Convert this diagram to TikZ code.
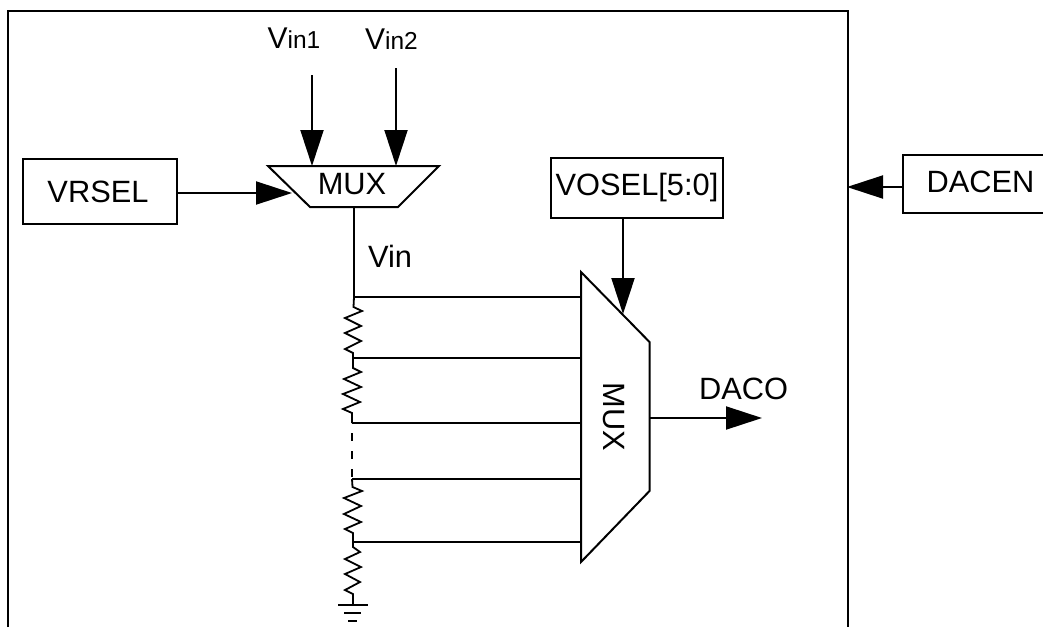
\documentclass[tikz,border=0pt]{standalone}
\usepackage{fontspec}
\setmainfont{Liberation Sans}
\usetikzlibrary{arrows.meta}
\tikzset{
  wire/.style={line width=2pt,line cap=butt},
  arrowwire/.style={wire,-{Triangle[length=36pt,width=23pt]}},
  lab/.style={inner sep=0pt,font=\fontsize{30.8}{34}\selectfont},
  boxnode/.style={draw,line width=2pt,inner sep=0pt,anchor=center,lab},
  zig/.style={line width=1.8pt,line join=miter},
}
\newcommand{\vinlab}[1]{{\fontsize{30}{32}\selectfont V}{\fontsize{24.5}{28}\selectfont in#1}}
\begin{document}
\begin{tikzpicture}[x=1pt,y=-1pt]
\useasboundingbox (0,0) rectangle (1043,627);
% frame
\coordinate (fbl) at (8,627); \coordinate (ftl) at (8,11);
\coordinate (ftr) at (848,11); \coordinate (fbr) at (848,627);
\draw[wire] (fbl) -- (ftl) -- (ftr) -- (fbr);
% boxes
\node[boxnode,minimum width=154pt,minimum height=65pt] (vrsel) at (100,191.5) {\hspace*{-4pt}VRSEL};
\node[boxnode,minimum width=172pt,minimum height=60pt] (vosel) at (637,188) {\raisebox{2pt}{VOSEL[5:0]}};
\draw[wire] (1043,155) -- (903,155) -- (903,213) -- (1043,213);
\node[lab] (dacen) at (980.5,182) {DACEN};
\coordinate (dacenl) at (903,187);
\coordinate (frameR) at (847,187);
\draw[arrowwire] (dacenl) -- (frameR);
% top mux
\coordinate (m1) at (268,166); \coordinate (m2) at (439,166);
\coordinate (m3) at (398,207); \coordinate (m4) at (310,207);
\draw[wire] (m1) -- (m2) -- (m3) -- (m4) -- cycle;
\node[lab] (muxa) at (352,184.5) {MUX};
\coordinate (in1s) at (312,75); \coordinate (in1e) at (312,166);
\coordinate (in2s) at (396,68); \coordinate (in2e) at (396,166);
\draw[arrowwire] (in1s) -- (in1e);
\draw[arrowwire] (in2s) -- (in2e);
\node[lab] (vin1) at (294,38.5) {\vinlab{1}};
\node[lab] (vin2) at (391.5,39.5) {\vinlab{2}};
\coordinate (vrselarrow) at (292,193);
\draw[arrowwire] (vrsel.east |- vrselarrow) -- (vrselarrow);
% Vin
\coordinate (muxout) at (354,207);
\coordinate (t1) at (354,297);
\draw[wire] (muxout) -- (t1);
\node[lab] (vin) at (390,256) {Vin};
% big mux
\coordinate (b1) at (581,272); \coordinate (b2) at (649.5,342);
\coordinate (b3) at (649.5,491); \coordinate (b4) at (581,562);
\draw[wire] (b1) -- (b2) -- (b3) -- (b4) -- cycle;
\node[lab,rotate=-90] (muxb) at (614,417) {MUX};
\coordinate (voselarrow) at (623,314);
\draw[arrowwire] (vosel.south -| voselarrow) -- (voselarrow);
\coordinate (outs) at (649.5,418); \coordinate (oute) at (762,418);
\draw[arrowwire] (outs) -- (oute);
\node[lab] (daco) at (743.5,389) {DACO};
% taps
\coordinate (t2) at (353,358); \coordinate (t3) at (352,423);
\coordinate (t4) at (352,479); \coordinate (t5) at (353,542);
\draw[wire] (t1) -- (t1 -| b1);
\draw[wire] (t2) -- (t2 -| b1);
\draw[wire] (t3) -- (t3 -| b1);
\draw[wire] (t4) -- (t4 -| b1);
\draw[wire] (t5) -- (t5 -| b1);
% resistors
\draw[zig] (t1) -- (353.5,307) -- (362,311) -- (345,318) -- (361,326) -- (345,333) -- (361,341) -- (345,349) -- (353,353) -- (t2);
\draw[zig] (t2) -- (353,368) -- (361,372) -- (344,379) -- (361,387) -- (343,394) -- (360,402) -- (343,409) -- (352,413) -- (t3);
\draw[zig,dash pattern=on 8pt off 10pt] (352,433) -- (t4);
\draw[zig] (t4) -- (352.5,487) -- (362,491) -- (344,498) -- (361,506) -- (344,514) -- (361,522) -- (345,529) -- (353,533) -- (t5);
\draw[zig] (t5) -- (353,547) -- (360,552) -- (345,559) -- (361,567) -- (345,574) -- (360,582) -- (345,590) -- (353,594) -- (353,605) coordinate (gnd);
% ground
\draw[wire] (338,605) -- (368,605);
\draw[wire] (344,613) -- (361,613);
\draw[wire] (348,621) -- (357,621);
\end{tikzpicture}
\end{document}
